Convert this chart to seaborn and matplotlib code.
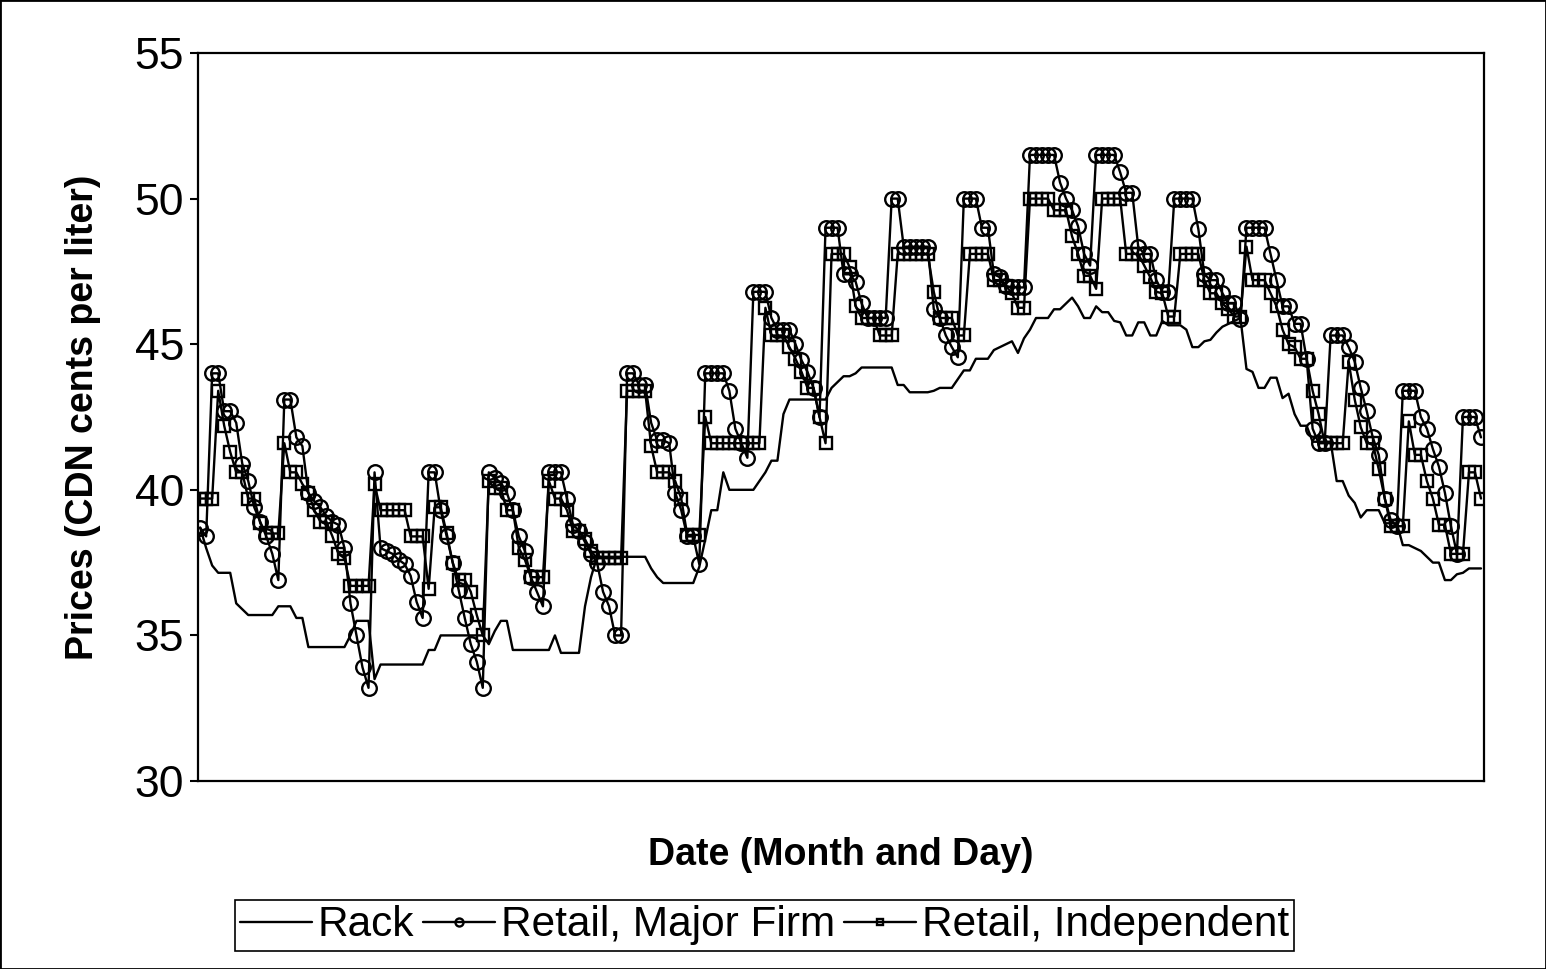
# -*- coding: utf-8 -*-

### Rack vs retail gasoline prices ###

import numpy as np
import matplotlib
matplotlib.use("Agg")
import matplotlib.pyplot as plt
import seaborn as sns

sns.set_style("white")
plt.rcParams['font.family'] = ['Liberation Sans', 'DejaVu Sans']
plt.rcParams['text.color'] = 'black'
plt.rcParams['axes.labelcolor'] = 'black'
plt.rcParams['ytick.color'] = 'black'

## Data (CDN cents per liter, one value per day) ##

rack = [38.7, 38.0, 37.4, 37.15, 37.15, 37.15, 36.1, 35.9, 35.7, 35.7,
        35.7, 35.7, 35.7, 36.0, 36.0, 36.0, 35.6, 35.6, 34.6, 34.6,
        34.6, 34.6, 34.6, 34.6, 34.6, 35.0, 35.5, 35.5, 35.5, 33.5,
        34.0, 34.0, 34.0, 34.0, 34.0, 34.0, 34.0, 34.0, 34.5, 34.5,
        35.0, 35.0, 35.0, 35.0, 35.0, 35.0, 35.0, 35.0, 34.7, 35.15,
        35.5, 35.5, 34.5, 34.5, 34.5, 34.5, 34.5, 34.5, 34.5, 35.0,
        34.4, 34.4, 34.4, 34.4, 36.0, 37.0, 37.7, 37.7, 37.7, 37.7,
        37.7, 37.7, 37.7, 37.7, 37.7, 37.3, 37.0, 36.8, 36.8, 36.8,
        36.8, 36.8, 36.8, 37.35, 38.3, 39.3, 39.3, 40.6, 40.0, 40.0,
        40.0, 40.0, 40.0, 40.3, 40.6, 41.0, 41.0, 42.6, 43.1, 43.1,
        43.1, 43.1, 43.1, 43.1, 43.1, 43.5, 43.7, 43.9, 43.9, 44.0,
        44.2, 44.2, 44.2, 44.2, 44.2, 44.2, 43.6, 43.6, 43.35, 43.35,
        43.35, 43.35, 43.4, 43.5, 43.5, 43.5, 43.8, 44.1, 44.1, 44.5,
        44.5, 44.5, 44.8, 44.9, 45.0, 45.1, 44.7, 45.2, 45.5, 45.9,
        45.9, 45.9, 46.2, 46.2, 46.4, 46.6, 46.3, 45.9, 45.9, 46.3,
        46.1, 46.1, 45.8, 45.75, 45.3, 45.3, 45.75, 45.75, 45.3, 45.3,
        45.8, 45.65, 45.65, 45.65, 45.5, 44.9, 44.9, 45.1, 45.15, 45.4,
        45.6, 45.7, 45.8, 45.9, 44.15, 44.05, 43.5, 43.5, 43.85, 43.85,
        43.15, 43.3, 42.6, 42.2, 42.2, 41.65, 41.65, 41.65, 41.65, 40.3,
        40.3, 39.8, 39.55, 39.05, 39.3, 39.3, 39.3, 38.85, 38.85, 38.85,
        38.1, 38.1, 38.0, 37.9, 37.7, 37.5, 37.5, 36.9, 36.9, 37.1,
        37.15, 37.3, 37.3, 37.3]

major = [38.7, 38.4, 44.0, 44.0, 42.7, 42.7, 42.3, 40.9, 40.3, 39.4,
         38.9, 38.4, 37.8, 36.9, 43.1, 43.1, 41.8, 41.5, 39.9, 39.6,
         39.4, 39.1, 38.9, 38.8, 38.0, 36.1, 35.0, 33.9, 33.2, 40.6,
         38.0, 37.9, 37.8, 37.6, 37.45, 37.05, 36.15, 35.6, 40.6, 40.6,
         39.3, 38.4, 37.5, 36.55, 35.6, 34.7, 34.1, 33.2, 40.6, 40.4,
         40.25, 39.9, 39.3, 38.4, 37.9, 37.0, 36.5, 36.0, 40.6, 40.6,
         40.6, 39.7, 38.8, 38.6, 38.2, 37.8, 37.5, 36.5, 36.0, 35.0,
         35.0, 44.0, 44.0, 43.6, 43.6, 42.3, 41.7, 41.7, 41.6, 39.9,
         39.3, 38.4, 38.4, 37.45, 44.0, 44.0, 44.0, 44.0, 43.4, 42.1,
         41.6, 41.1, 46.8, 46.8, 46.8, 45.9, 45.5, 45.5, 45.5, 45.0,
         44.45, 44.05, 43.5, 42.5, 49.0, 49.0, 49.0, 47.4, 47.4, 47.15,
         46.4, 45.9, 45.9, 45.9, 45.9, 50.0, 50.0, 48.35, 48.35, 48.35,
         48.35, 48.35, 46.2, 45.9, 45.3, 44.9, 44.55, 50.0, 50.0, 50.0,
         49.0, 49.0, 47.4, 47.3, 47.0, 46.95, 46.95, 46.95, 51.5, 51.5,
         51.5, 51.5, 51.5, 50.55, 50.0, 49.6, 49.05, 48.1, 47.7, 51.5,
         51.5, 51.5, 51.5, 50.9, 50.2, 50.2, 48.35, 48.1, 48.1, 47.2,
         46.8, 46.8, 50.0, 50.0, 50.0, 50.0, 48.95, 47.4, 47.2, 47.2,
         46.75, 46.4, 46.4, 45.85, 49.0, 49.0, 49.0, 49.0, 48.1, 47.2,
         46.3, 46.3, 45.7, 45.7, 44.5, 42.1, 41.6, 41.6, 45.3, 45.3,
         45.3, 44.9, 44.4, 43.5, 42.7, 41.8, 41.2, 39.7, 38.95, 38.75,
         43.4, 43.4, 43.4, 42.5, 42.1, 41.4, 40.8, 39.9, 38.75, 37.8,
         42.5, 42.5, 42.5, 41.8]

independent = [39.7, 39.7, 39.7, 43.4, 42.2, 41.3, 40.6, 40.6, 39.7, 39.7,
               38.85, 38.5, 38.5, 38.5, 41.6, 40.6, 40.6, 40.2, 39.9, 39.3,
               38.9, 38.9, 38.4, 37.8, 37.65, 36.7, 36.7, 36.7, 36.7, 40.2,
               39.3, 39.3, 39.3, 39.3, 39.3, 38.4, 38.4, 38.4, 36.6, 39.4,
               39.4, 38.5, 37.5, 36.9, 36.9, 36.5, 35.7, 35.0, 40.3, 40.05,
               40.05, 39.3, 39.3, 38.0, 37.6, 37.0, 37.0, 37.0, 40.3, 39.7,
               39.7, 39.3, 38.6, 38.6, 38.3, 37.9, 37.65, 37.65, 37.65, 37.65,
               37.65, 43.4, 43.4, 43.4, 43.4, 41.5, 40.6, 40.6, 40.6, 40.3,
               39.7, 38.45, 38.45, 38.45, 42.5, 41.6, 41.6, 41.6, 41.6, 41.6,
               41.6, 41.6, 41.6, 41.6, 46.25, 45.3, 45.3, 45.3, 44.9, 44.5,
               44.05, 43.5, 43.5, 42.5, 41.6, 48.1, 48.1, 48.1, 47.65, 46.3,
               45.9, 45.9, 45.9, 45.3, 45.3, 45.3, 48.1, 48.1, 48.1, 48.1,
               48.1, 48.1, 46.8, 45.9, 45.9, 45.9, 45.3, 45.3, 48.1, 48.1,
               48.1, 48.1, 47.2, 47.2, 47.0, 46.75, 46.25, 46.25, 50.0, 50.0,
               50.0, 50.0, 49.6, 49.6, 49.6, 48.7, 48.1, 47.35, 47.35, 46.9,
               50.0, 50.0, 50.0, 50.0, 48.1, 48.1, 48.1, 47.7, 47.3, 46.8,
               46.75, 45.95, 45.95, 48.1, 48.1, 48.1, 48.1, 47.2, 46.75, 46.75,
               46.4, 46.2, 45.95, 45.95, 48.35, 47.2, 47.2, 47.2, 46.75, 46.3,
               45.5, 45.0, 44.9, 44.5, 44.5, 43.4, 42.6, 41.6, 41.6, 41.6,
               41.6, 44.4, 43.1, 42.15, 41.6, 41.6, 40.7, 39.7, 38.75, 38.75,
               38.75, 42.35, 41.2, 41.2, 40.3, 39.7, 38.8, 38.8, 37.8, 37.8,
               37.8, 40.6, 40.6, 39.7]

series_names = ["Rack", "Retail, Major Firm", "Retail, Independent"]
y_ticks = [30, 35, 40, 45, 50, 55]

## Plot ##

fig = plt.figure(figsize=(15.46, 9.69), dpi=100)
ax = fig.add_axes([0.1281, 0.194, 0.8318, 0.7513])

lw = 1.7
sns.lineplot(x=np.arange(len(rack)), y=rack, ax=ax, color='black',
             linewidth=lw, label=series_names[0])
sns.lineplot(x=np.arange(len(major)), y=major, ax=ax, color='black',
             linewidth=lw, marker='o', markersize=10.5,
             markerfacecolor='none', markeredgecolor='black',
             markeredgewidth=1.7, label=series_names[1])
sns.lineplot(x=np.arange(len(independent)), y=independent, ax=ax, color='black',
             linewidth=lw, marker='s', markersize=8.5,
             markerfacecolor='none', markeredgecolor='black',
             markeredgewidth=1.7, label=series_names[2])

ax.set_xlim(-0.35, len(rack) - 1 + 0.5)
ax.set_ylim(30, 55)
ax.set_yticks(y_ticks)
ax.set_xticks([])
for s in ax.spines.values():
    s.set_color('black')
    s.set_linewidth(1.6)
ax.tick_params(axis='y', direction='out', length=6, width=1.5,
               labelsize=32, pad=4, left=True, colors='black')

ax.set_ylabel('Prices (CDN cents per liter)', fontsize=27, fontweight='bold')
ax.yaxis.set_label_coords(-0.0894, 0.5)
ax.yaxis.label.set_va('center')
ax.set_xlabel('Date (Month and Day)', fontsize=27, fontweight='bold')
ax.xaxis.set_label_coords(0.5, -0.1016)
ax.xaxis.label.set_va('center')

handles, labels = ax.get_legend_handles_labels()
if ax.get_legend() is not None:
    ax.get_legend().remove()
leg = fig.legend(handles, labels, loc='center', bbox_to_anchor=(0.4945, 0.0449),
                 ncol=3, fontsize=30.5, frameon=True, fancybox=False,
                 edgecolor='black', framealpha=1, handlelength=1.7,
                 handletextpad=0.15, columnspacing=0.2, borderpad=0.12,
                 markerscale=0.55)
leg.get_frame().set_linewidth(1.2)

# outer frame round the whole picture
fig.add_artist(plt.Rectangle((0, 0), 1, 1, transform=fig.transFigure,
                             fill=False, edgecolor='black', linewidth=2))

fig.savefig('out.png', dpi=100)
